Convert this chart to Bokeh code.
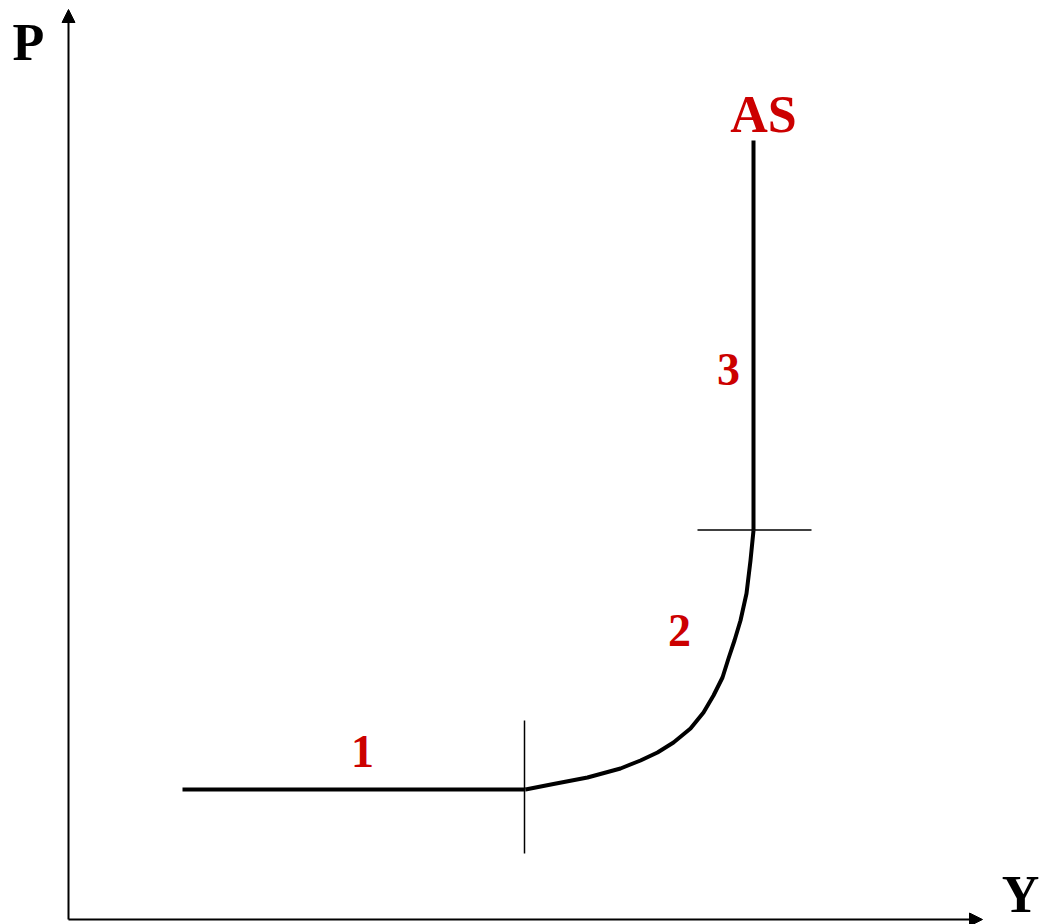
from bokeh.plotting import figure
from bokeh.models import Range1d, Arrow, NormalHead
from bokeh.core.properties import value
from bokeh.embed import file_html
from bokeh.resources import INLINE

# AS curve (Y = output, P = price level), diagram units
flat_y = [114, 457]
flat_p = [130, 130]
curve_y = [457, 485, 519, 552, 572, 589, 605, 622, 635, 645, 654, 660, 666, 672, 678, 682, 685]
curve_p = [130, 135.5, 142, 151, 159, 167, 177, 191, 207, 224, 242, 261, 279, 299, 326, 359, 389]
vert_y = [685, 685]
vert_p = [389, 779]

# boundary markers between ranges
mark1_y = [456, 456]
mark1_p = [66, 199]
mark2_y = [629, 743]
mark2_p = [389.5, 389.5]

# labels
range_labels = ["1", "2", "3"]
range_label_y = [294, 611, 660]
range_label_p = [168, 289, 550]
curve_label = ["AS"]
curve_label_y = [695]
curve_label_p = [805]
axis_labels = ["P", "Y"]
axis_label_y = [-40, 952]
axis_label_p = [877, 25]

axis_len_y = 914
axis_len_p = 910

RED = "#CC0000"
FONT = value("Liberation Serif")

p = figure(width=1043, height=924, x_range=Range1d(-68, 975), y_range=Range1d(-5, 919),
           output_backend="svg", toolbar_location=None, min_border=0,
           x_axis_type=None, y_axis_type=None)
p.outline_line_color = None
p.xgrid.visible = False
p.ygrid.visible = False
p.background_fill_color = "white"

# axes with arrow heads
p.add_layout(Arrow(end=NormalHead(size=13, fill_color="black", line_color="black", line_width=1),
                   x_start=0, y_start=0, x_end=0, y_end=axis_len_p, line_width=2, line_color="black"))
p.add_layout(Arrow(end=NormalHead(size=13, fill_color="black", line_color="black", line_width=1),
                   x_start=0, y_start=0, x_end=axis_len_y, y_end=0, line_width=2, line_color="black"))

# markers
p.line(mark1_y, mark1_p, line_color="black", line_width=1.5)
p.line(mark2_y, mark2_p, line_color="black", line_width=1.5)

# AS curve
p.line(flat_y, flat_p, line_color="black", line_width=4)
p.line(curve_y, curve_p, line_color="black", line_width=4, line_join="round")
p.line(vert_y, vert_p, line_color="black", line_width=4)

# labels
p.text(range_label_y, range_label_p, text=range_labels, text_color=RED, text_font=FONT,
       text_font_style="bold", text_font_size="46px", text_align="center", text_baseline="alphabetic")
p.text(curve_label_y, curve_label_p, text=curve_label, text_color=RED, text_font=FONT,
       text_font_style="bold", text_font_size="52px", text_align="center", text_baseline="alphabetic")
p.text(axis_label_y, axis_label_p, text=axis_labels, text_color="black", text_font=FONT,
       text_font_style="bold", text_font_size="52px", text_align="center", text_baseline="alphabetic")

open("out.html", "w").write(file_html(p, INLINE))
